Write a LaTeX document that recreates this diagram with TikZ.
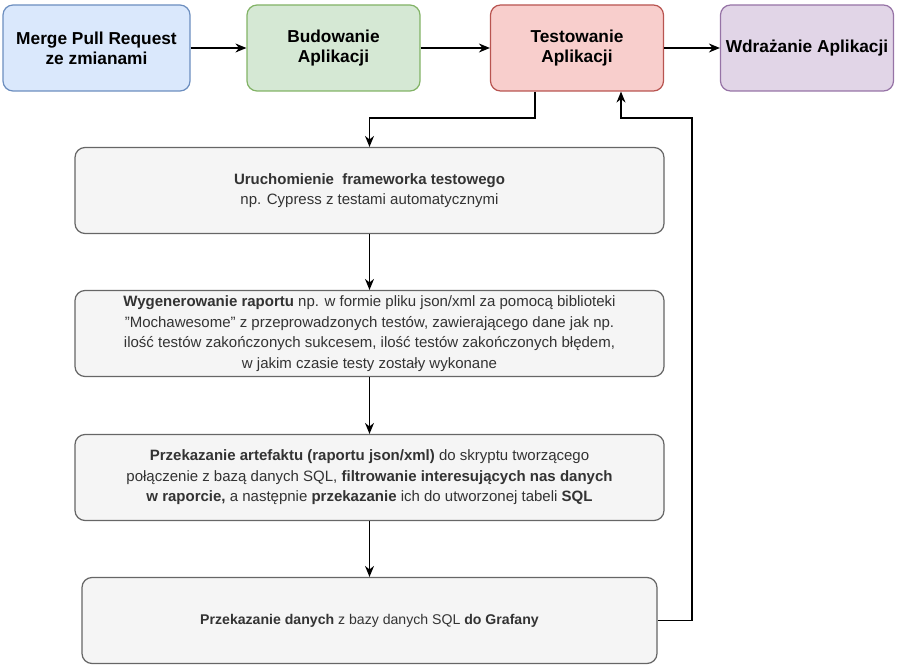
\documentclass[tikz,border=0pt]{standalone}
\usepackage{fontspec}
\setmainfont{Liberation Sans}
\usetikzlibrary{arrows.meta}
\definecolor{bluef}{HTML}{DAE8FC}\definecolor{blued}{HTML}{6C8EBF}
\definecolor{greenf}{HTML}{D5E8D4}\definecolor{greend}{HTML}{82B366}
\definecolor{redf}{HTML}{F8CECC}\definecolor{redd}{HTML}{B85450}
\definecolor{purf}{HTML}{E1D5E7}\definecolor{purd}{HTML}{9673A6}
\definecolor{grayf}{HTML}{F5F5F5}\definecolor{grayd}{HTML}{666666}
\definecolor{txt}{HTML}{333333}
\begin{document}
\begin{tikzpicture}[x=1pt,y=-1pt,
  topbox/.style={draw, rounded corners=10pt, line width=1.2pt, minimum width=173pt,
    minimum height=86pt, align=center, inner sep=0pt,
    font=\fontsize{17.3}{20}\selectfont\bfseries},
  gbox/.style={draw=grayd, fill=grayf, rounded corners=10pt, line width=1.2pt,
    align=center, inner sep=0pt, text=txt, minimum height=86pt,
    font=\fontsize{15}{20.5}\selectfont},
  arr/.style={line width=1.2pt, -{Stealth[length=11pt,width=9pt]}},
  ln/.style={line width=1.2pt}]
\useasboundingbox (0,0) rectangle (898,668);
\node[topbox, draw=blued, fill=bluef, minimum width=187pt] (merge) at (96.5,48) {Merge Pull Request\\ze zmianami};
\node[topbox, draw=greend, fill=greenf] (bud) at (333.5,48) {Budowanie\\Aplikacji};
\node[topbox, draw=redd, fill=redf] (test) at (577,48) {Testowanie\\Aplikacji};
\node[topbox, draw=purd, fill=purf] (wdr) at (807,48) {Wdrażanie Aplikacji};

\node[gbox, minimum width=589pt] (b1) at (369.5,190.5) {\textbf{Uruchomienie\ \ frameworka testowego}\\np. Cypress z testami automatycznymi};
\node[gbox, minimum width=589pt] (b2) at (369.5,333.5) {\textbf{Wygenerowanie raportu} np. w formie pliku json/xml za pomocą biblioteki\\\symbol{34}Mochawesome\symbol{34} z przeprowadzonych testów, zawierającego dane jak np.\\ilość testów zakończonych sukcesem, ilość testów zakończonych błędem,\\w jakim czasie testy zostały wykonane};
\node[gbox, minimum width=589pt] (b3) at (369.5,477.5) {\textbf{Przekazanie artefaktu (raportu json/xml)} do skryptu tworzącego\\połączenie z bazą danych SQL, \textbf{filtrowanie interesujących nas danych}\\\textbf{w raporcie,} a następnie \textbf{przekazanie} ich do utworzonej tabeli \textbf{SQL}};
\node[gbox, minimum width=575pt, font=\fontsize{14.1}{20}\selectfont] (b4) at (369.5,620.5) {\textbf{Przekazanie danych} z bazy danych SQL \textbf{do Grafany}};

\draw[arr] (merge) -- (bud);
\draw[arr] (bud) -- (test);
\draw[arr] (test) -- (wdr);

\coordinate (c1) at (535,118);
\coordinate (c2) at (692,118);
\coordinate (c3) at (621,118);
\draw[arr] (test.south -| c1) -- (c1) -| (b1.north);
\draw[arr] (b1) -- (b2);
\draw[arr] (b2) -- (b3);
\draw[arr] (b3) -- (b4);
\draw[arr] (b4.east) -| (c2) -- (c3) -- (test.south -| c3);
\end{tikzpicture}
\end{document}
